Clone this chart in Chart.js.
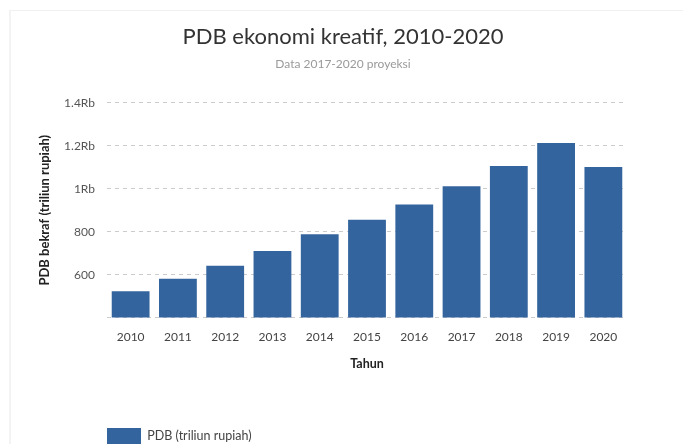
<!DOCTYPE html>
<html>
<head>
<meta charset="utf-8">
<script src="https://cdn.jsdelivr.net/npm/chart.js@4/dist/chart.umd.min.js"></script>
<style>
  html, body { margin: 0; padding: 0; background: #ffffff; overflow: hidden; }
  #wrap { position: relative; width: 683px; height: 444px; }
  #card { position: absolute; left: 9px; top: 10px; right: 0; bottom: 0;
          border-left: 2px solid #f3f3f3; border-top: 1px solid #f1f1f1; }
  canvas { position: absolute; left: 0; top: 0; }
</style>
</head>
<body>
<div id="wrap">
  <div id="card"></div>
  <canvas id="c" width="683" height="444"></canvas>
</div>
<script>
const categories = ['2010','2011','2012','2013','2014','2015','2016','2017','2018','2019','2020'];
const pdbValues = [523, 581, 641, 710, 788, 856, 927, 1012, 1106, 1213, 1101];
const yTickValues = [400, 600, 800, 1000, 1200, 1400];
const yTickLabels = ['', '600', '800', '1Rb', '1.2Rb', '1.4Rb'];
const titleText = 'PDB ekonomi kreatif, 2010-2020';
const subtitleText = 'Data 2017-2020 proyeksi';
const seriesLabel = 'PDB (triliun rupiah)';
const yAxisTitle = 'PDB bekraf (triliun rupiah)';
const xAxisTitle = 'Tahun';

Chart.defaults.font.family = 'Lato, "Open Sans", sans-serif';

new Chart(document.getElementById('c'), {
  type: 'bar',
  data: {
    labels: categories,
    datasets: [{
      label: seriesLabel,
      data: pdbValues,
      backgroundColor: '#34649d',
      borderWidth: 0,
      categoryPercentage: 1.0,
      barPercentage: 0.8
    }]
  },
  options: {
    responsive: false,
    devicePixelRatio: 1,
    animation: false,
    layout: { padding: { left: 3, right: 0, top: 0, bottom: -10 } },
    plugins: {
      title: {
        display: true,
        text: titleText,
        color: '#333333',
        font: { size: 22, weight: 'normal' },
        padding: { top: 24, bottom: 4 }
      },
      subtitle: {
        display: true,
        text: subtitleText,
        color: '#9a9a9a',
        font: { size: 12 },
        padding: { top: 3, bottom: 31 }
      },
      legend: {
        display: true,
        position: 'bottom',
        align: 'start',
        fullSize: false,
        labels: {
          boxWidth: 34,
          boxHeight: 16,
          padding: 0,
          color: '#444444',
          font: { size: 12.5 }
        }
      },
      tooltip: { enabled: false }
    },
    scales: {
      x: {
        grid: { display: false, drawTicks: false },
        border: { display: false },
        ticks: { color: '#444444', font: { size: 12 }, padding: 12, maxRotation: 0 },
        title: {
          display: true,
          text: xAxisTitle,
          color: '#222222',
          font: { size: 12.5, weight: 'bold' },
          padding: { top: 0, bottom: 57 }
        }
      },
      y: {
        min: 400,
        max: 1400,
        afterBuildTicks: (axis) => { axis.ticks = yTickValues.map(v => ({ value: v })); },
        afterFit: (scale) => { scale.width = 104; },
        grid: {
          color: '#cccccc',
          lineWidth: 1,
          drawTicks: false
        },
        border: { display: false, dash: [4, 4] },
        ticks: {
          color: '#555555',
          font: { size: 12 },
          padding: 12,
          callback: (value) => {
            const i = yTickValues.indexOf(value);
            return i >= 0 ? yTickLabels[i] : '';
          }
        },
        title: {
          display: true,
          text: yAxisTitle,
          color: '#222222',
          font: { size: 13, weight: 'bold' },
          padding: { top: 34, bottom: 10 }
        }
      },
      yRight: {
        position: 'right',
        display: true,
        grid: { display: false, drawTicks: false },
        border: { display: false },
        ticks: { display: false },
        afterFit: (scale) => { scale.width = 56; }
      }
    }
  }
});
</script>
</body>
</html>
